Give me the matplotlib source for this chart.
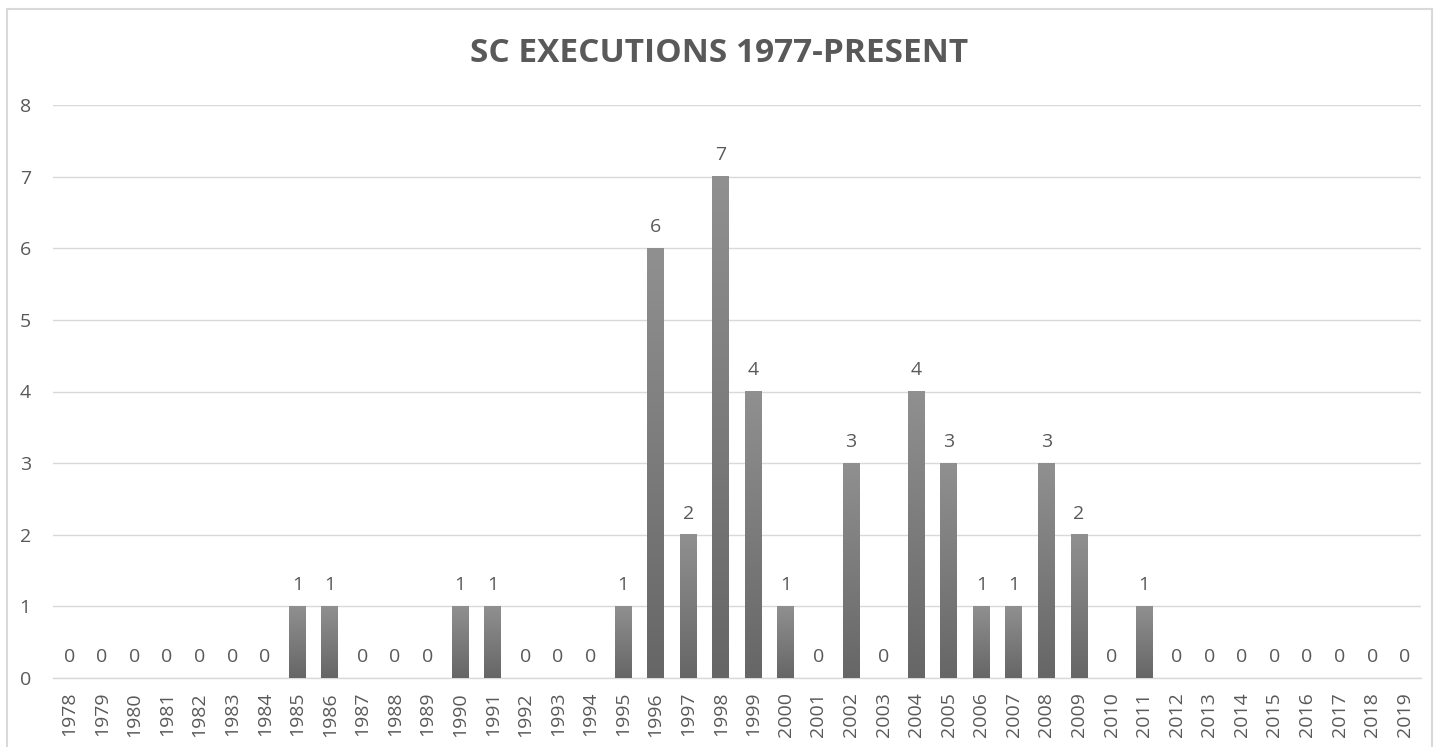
"""
Recreate the "SC EXECUTIONS 1977-PRESENT" column chart.
Gray columns with a vertical gradient, value labels on top, rotated year ticks.
"""

import matplotlib
matplotlib.use("Agg")
import matplotlib.pyplot as plt
import numpy as np
from matplotlib.colors import LinearSegmentedColormap
from matplotlib.patches import Rectangle


YEARS = [str(y) for y in range(1978, 2020)]
EXECUTIONS = [
    0, 0, 0, 0, 0, 0, 0, 1, 1, 0,   # 1978-1987
    0, 0, 1, 1, 0, 0, 0, 1, 6, 2,   # 1988-1997
    7, 4, 1, 0, 3, 0, 4, 3, 1, 1,   # 1998-2007
    3, 2, 0, 1, 0, 0, 0, 0, 0, 0,   # 2008-2017
    0, 0,                           # 2018-2019
]
Y_TICKS = list(range(0, 9))
TITLE = "SC EXECUTIONS 1977-PRESENT"

TEXT_COLOR = "#595959"
GRID_COLOR = "#d9d9d9"
BAR_TOP = "#909090"
BAR_BOTTOM = "#666666"

plt.rcParams["font.family"] = ["Open Sans", "DejaVu Sans"]

fig = plt.figure(figsize=(14.39, 7.47), dpi=100)
fig.patch.set_facecolor("white")

# thin outer frame like the spreadsheet chart area
fig.add_artist(Rectangle((7 / 1439, -0.05), 1425 / 1439, 1.05 - 9 / 747,
                         transform=fig.transFigure, fill=False,
                         edgecolor="#d9d9d9", linewidth=1.5))

ax = fig.add_axes([53 / 1439, 1 - 678 / 747, 1368 / 1439, (678 - 105) / 747])

x = np.arange(len(YEARS))
bars = ax.bar(x, EXECUTIONS, width=0.52, color="none", edgecolor="none", zorder=3)

# gradient fill, dark at the base and lighter at the top of each column
cmap = LinearSegmentedColormap.from_list("bar", [BAR_BOTTOM, BAR_TOP])
grad = np.linspace(0, 1, 256).reshape(-1, 1)
for bar in bars:
    h = bar.get_height()
    if h <= 0:
        continue
    x0 = bar.get_x()
    ax.imshow(grad, cmap=cmap, origin="lower", aspect="auto",
              extent=(x0, x0 + bar.get_width(), 0, h), zorder=3)

for xi, v in zip(x, EXECUTIONS):
    ax.text(xi, v + 0.17, str(v), ha="center", va="bottom",
            fontsize=14, color=TEXT_COLOR, zorder=4)

ax.set_xlim(-0.5, len(YEARS) - 0.5)
ax.set_ylim(0, 8)
ax.set_yticks(Y_TICKS)
ax.set_xticks(x)
ax.set_xticklabels(YEARS, rotation=90)
ax.tick_params(axis="x", length=0, pad=10, labelsize=14, labelcolor=TEXT_COLOR)
ax.tick_params(axis="y", length=0, pad=16, labelsize=14, labelcolor=TEXT_COLOR)

ax.grid(axis="y", color=GRID_COLOR, linewidth=1, zorder=0)
ax.set_axisbelow(True)
for side in ("top", "right", "left"):
    ax.spines[side].set_visible(False)
ax.spines["bottom"].set_color(GRID_COLOR)
ax.spines["bottom"].set_linewidth(1)

fig.text(0.5, 1 - 53 / 747, TITLE, ha="center", va="center",
         fontsize=24, fontweight="bold", color=TEXT_COLOR)

fig.savefig("out.png", dpi=100)
